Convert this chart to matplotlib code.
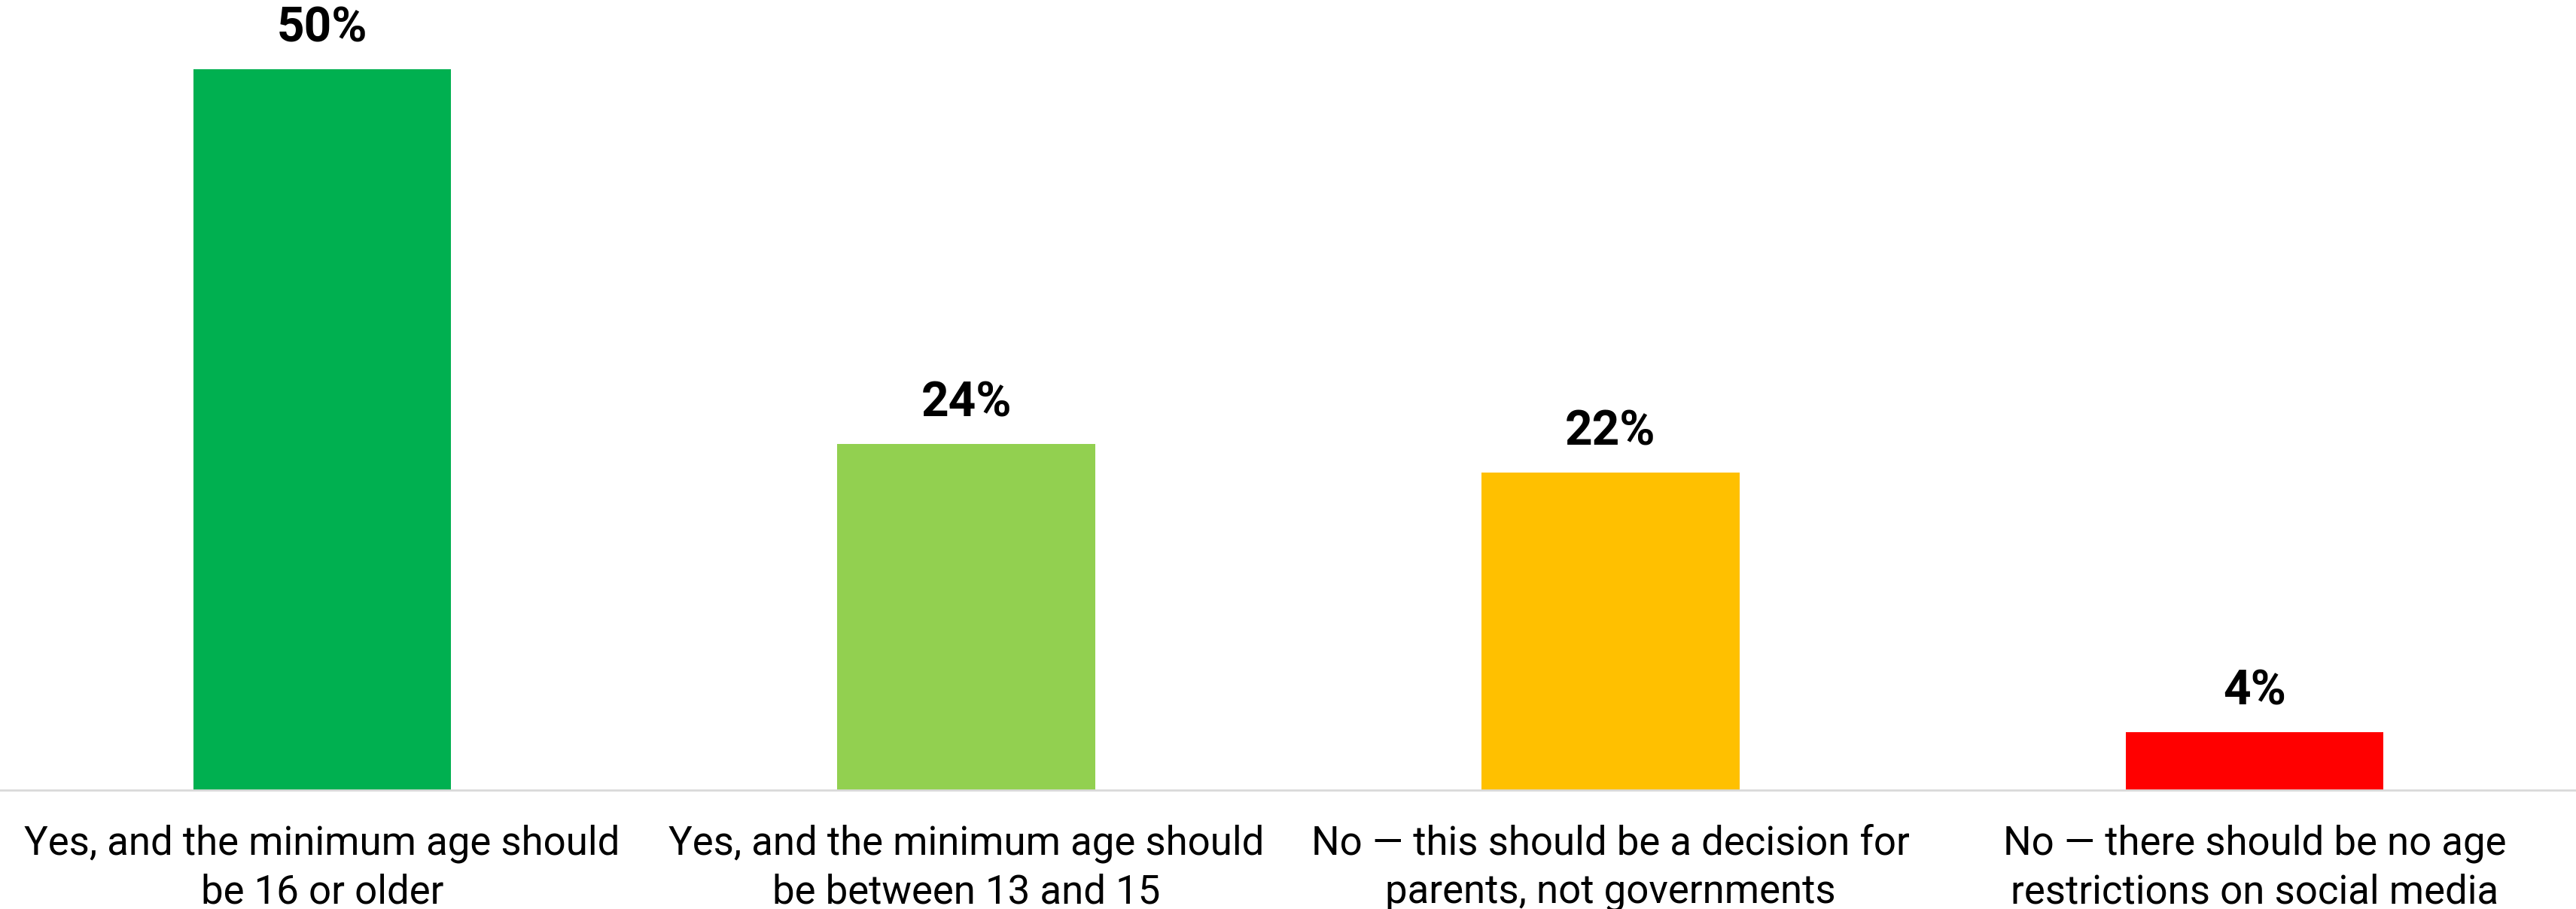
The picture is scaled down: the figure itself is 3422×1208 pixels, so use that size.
import matplotlib.pyplot as plt

# data
categories = [
    'Yes, and the minimum age should\nbe 16 or older',
    'Yes, and the minimum age should\nbe between 13 and 15',
    'No \u2014 this should be a decision for\nparents, not governments',
    'No \u2014 there should be no age\nrestrictions on social media',
]
values = [50, 24, 22, 4]
colors = ['#00B050', '#92D050', '#FFC000', '#FF0000']

plt.rcParams['font.family'] = ['Roboto', 'DejaVu Sans']

fig = plt.figure(figsize=(34.23, 12.08), dpi=100)
ax = fig.add_axes([0, 1 - 1050 / 1208, 1, 1050 / 1208])

x = range(len(values))
ax.bar(x, values, width=0.4, color=colors, zorder=2)

for xi, v in zip(x, values):
    ax.annotate(f'{v}%', (xi, v), xytext=(0, 17), textcoords='offset points',
                ha='center', va='bottom', fontsize=46, fontweight='bold')

ax.set_xlim(-0.5, 3.5)
ax.set_ylim(0, 54.8)
ax.set_xticks(list(x))
ax.set_xticklabels(categories, fontsize=38, linespacing=1.33)
ax.tick_params(axis='x', length=0, pad=33)
ax.set_yticks([])

for side in ['top', 'right', 'left']:
    ax.spines[side].set_visible(False)
ax.spines['bottom'].set_color('#D9D9D9')
ax.spines['bottom'].set_linewidth(2)

fig.savefig('out.png', dpi=100)
